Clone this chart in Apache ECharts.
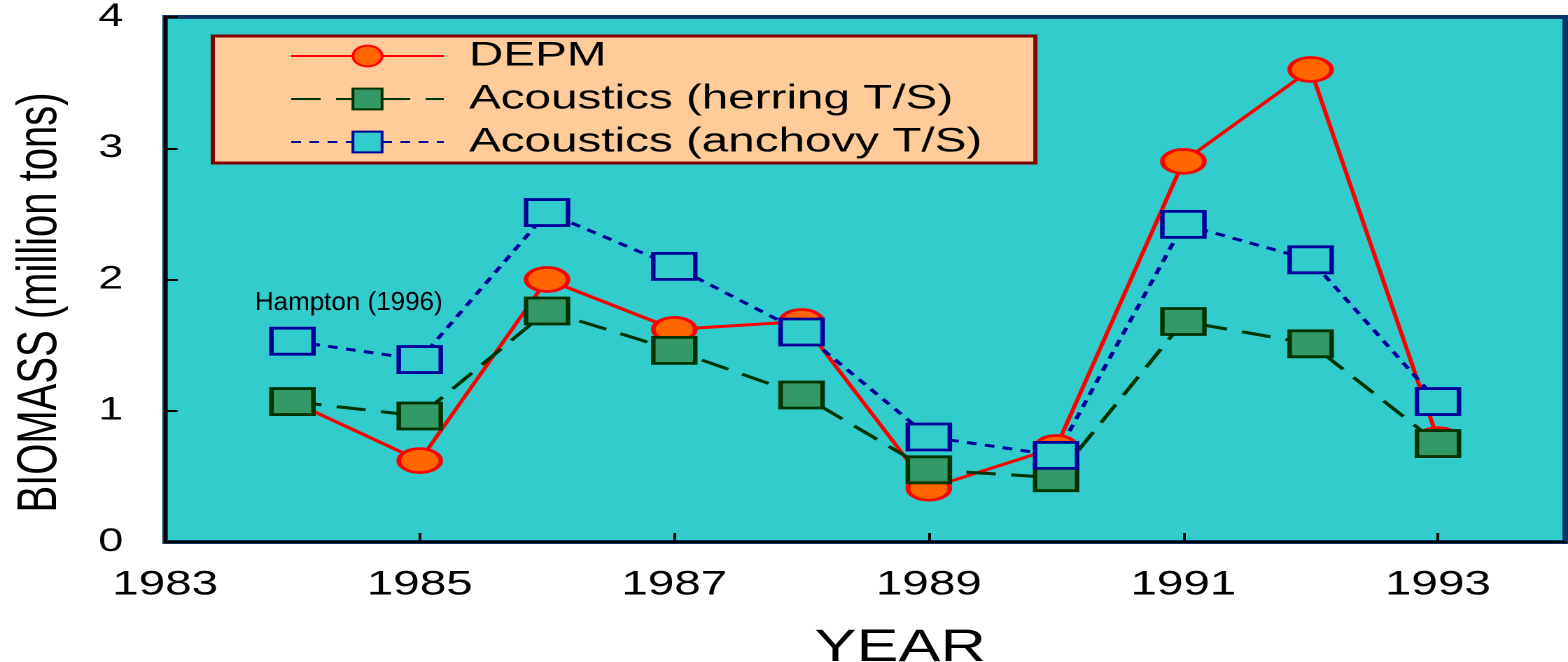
<!DOCTYPE html>
<html>
<head>
<meta charset="utf-8">
<script src="https://cdn.jsdelivr.net/npm/echarts@6/dist/echarts.min.js"></script>
<style>
html,body{margin:0;padding:0;background:#fff;overflow:hidden;width:1568px;height:662px;}
#chart{width:1120px;height:662px;transform:scaleX(1.4);transform-origin:0 0;}
</style>
</head>
<body>
<div id="chart"></div>
<script>
// ---- data ----
const axisYears = ['1983','1984','1985','1986','1987','1988','1989','1990','1991','1992','1993','1994'];
const years = ['1984','1985','1986','1987','1988','1989','1990','1991','1992','1993'];
const depm =    [1.07, 0.62, 2.00, 1.62, 1.68, 0.41, 0.72, 2.90, 3.60, 0.78];
const herring = [1.07, 0.96, 1.76, 1.46, 1.12, 0.55, 0.49, 1.68, 1.51, 0.75];
const anchovy = [1.53, 1.39, 2.51, 2.10, 1.60, 0.80, 0.66, 2.42, 2.15, 1.07];
const seriesNames = ['DEPM', 'Acoustics (herring T/S)', 'Acoustics (anchovy T/S)'];
const yTicks = [0, 1, 2, 3, 4];
const xAxisTitle = 'YEAR';
const yAxisTitle = 'BIOMASS (million tons)';
const noteText = 'Hampton (1996)';

const pairs = arr => years.map((y, i) => [y, arr[i]]);
const ellipse = 'path://M0,50A50,50,0,1,1,100,50A50,50,0,1,1,0,50Z';
const showOdd = (i, v) => (+v) % 2 === 1;
const FONT = '"Liberation Sans", Arial, sans-serif';

const chart = echarts.init(document.getElementById('chart'), null, {devicePixelRatio: 2});
chart.setOption({
  animation: false,
  backgroundColor: '#ffffff',
  grid: {
    left: 118, right: 2, top: 17, bottom: 120,
    outerBoundsMode: 'none', containLabel: false,
    show: true, backgroundColor: '#33CCCC', borderColor: '#0B3566', borderWidth: 4
  },
  legend: {
    orient: 'vertical',
    left: 152, top: 36,
    itemWidth: 109, itemHeight: 26, itemGap: 9,
    padding: [3, 38, 4, 55],
    backgroundColor: '#FFCC99',
    borderColor: '#800000', borderWidth: 3, borderRadius: 0,
    textStyle: {fontSize: 34, color: '#000', fontFamily: FONT, padding: [0, 0, 0, 13]},
    data: seriesNames
  },
  xAxis: {
    type: 'category',
    data: axisYears,
    boundaryGap: false,
    name: xAxisTitle,
    nameLocation: 'middle',
    nameGap: 84,
    nameTextStyle: {fontSize: 45, color: '#000', fontFamily: FONT, padding: [0, 0, 0, 50]},
    axisLine: {lineStyle: {color: '#000', width: 2}},
    axisTick: {show: true, inside: true, length: 9, interval: showOdd, lineStyle: {color: '#000', width: 2}},
    axisLabel: {interval: showOdd, margin: 26, fontSize: 34, color: '#000', fontFamily: FONT},
    splitLine: {show: false}
  },
  yAxis: {
    type: 'value',
    min: yTicks[0], max: yTicks[yTicks.length - 1], interval: 1,
    name: yAxisTitle,
    nameLocation: 'middle',
    nameRotate: 90,
    nameGap: 69,
    nameTextStyle: {fontSize: 40, color: '#000', fontFamily: FONT, padding: [0, 46, 0, 0]},
    axisLine: {show: true, lineStyle: {color: '#000', width: 2}},
    axisTick: {show: true, inside: true, length: 9, lineStyle: {color: '#000', width: 2}},
    axisLabel: {margin: 30, fontSize: 32, color: '#000', fontFamily: FONT},
    splitLine: {show: false}
  },
  series: [
    {
      name: seriesNames[0], type: 'line', data: pairs(depm),
      symbol: ellipse, symbolSize: [30, 24],
      lineStyle: {color: '#FF0000', width: 3},
      itemStyle: {color: '#FF6600', borderColor: '#FF0000', borderWidth: 3}
    },
    {
      name: seriesNames[1], type: 'line', data: pairs(herring),
      symbol: 'rect', symbolSize: [30, 26],
      lineStyle: {color: '#003300', width: 3, type: [21, 11]},
      itemStyle: {color: '#339966', borderColor: '#003300', borderWidth: 3}
    },
    {
      name: seriesNames[2], type: 'line', data: pairs(anchovy),
      symbol: 'rect', symbolSize: [30, 26],
      lineStyle: {color: '#000099', width: 3, type: [7, 6]},
      itemStyle: {color: '#33CCCC', borderColor: '#000099', borderWidth: 3}
    }
  ],
  graphic: [{
    type: 'text', x: 182, y: 290, scaleX: 1 / 1.4, z: 100,
    style: {text: noteText, fontSize: 26, fill: '#000', fontFamily: FONT, textAlign: 'left', textVerticalAlign: 'top'}
  }]
});
</script>
</body>
</html>
